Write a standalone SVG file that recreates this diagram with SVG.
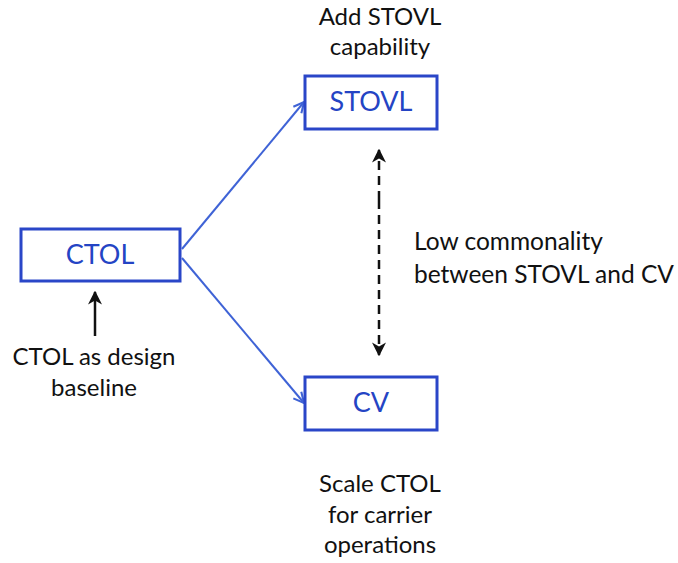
<svg xmlns="http://www.w3.org/2000/svg" width="678" height="563" viewBox="0 0 678 563">
<style>
.box{fill:#fff;stroke:#2a46c8;stroke-width:3}
.bt{font-family:Lato,"Open Sans","Liberation Sans",sans-serif;font-size:27px;fill:#2444c4;text-anchor:middle}
.t{font-family:Lato,"Open Sans","Liberation Sans",sans-serif;font-size:24px;fill:#111;text-anchor:middle}
.tl{font-family:Lato,"Open Sans","Liberation Sans",sans-serif;font-size:24.5px;fill:#111}
.blue{stroke:#3f63d6;stroke-width:2;fill:none}
.blk{stroke:#111;stroke-width:2.5;fill:none}
</style>
<defs>
<marker id="ab" viewBox="0 0 10 10" refX="9" refY="5" markerWidth="13" markerHeight="13" markerUnits="userSpaceOnUse" orient="auto"><path d="M1,1 L9,5 L1,9" fill="none" stroke="#3f63d6" stroke-width="1.6"/></marker>
<marker id="ak" viewBox="0 0 10 10" refX="9" refY="5" markerWidth="14" markerHeight="14" markerUnits="userSpaceOnUse" orient="auto"><path d="M0,0 L10,5 L0,10 L3,5 Z" fill="#111"/></marker>
</defs>
<rect width="678" height="563" fill="#fff"/>
<g id="connectors">
<line class="blue" x1="182" y1="249" x2="304" y2="102" marker-end="url(#ab)"/>
<line class="blue" x1="182" y1="258" x2="304" y2="403" marker-end="url(#ab)"/>
<line class="blk" x1="95" y1="336" x2="95" y2="292" marker-end="url(#ak)"/>
<line class="blk" x1="379" y1="200" x2="379" y2="150" marker-end="url(#ak)" stroke-dasharray="9,6"/>
<line class="blk" x1="379" y1="200" x2="379" y2="355" marker-end="url(#ak)" stroke-dasharray="9,6"/>
</g>
<g id="ctol"><rect class="box" x="21" y="229" width="159" height="52"/><text class="bt" x="100" y="264">CTOL</text></g>
<g id="stovl"><rect class="box" x="305" y="76" width="132" height="53"/><text class="bt" x="371" y="111">STOVL</text></g>
<g id="cv"><rect class="box" x="305" y="377" width="132" height="53"/><text class="bt" x="371" y="412">CV</text></g>
<g id="label-ctol"><text class="t" x="94" y="365">CTOL as design</text><text class="t" x="94" y="396">baseline</text></g>
<g id="label-stovl"><text class="t" x="380" y="25">Add STOVL</text><text class="t" x="380" y="55">capability</text></g>
<g id="label-cv"><text class="t" x="380" y="492">Scale CTOL</text><text class="t" x="380" y="523">for carrier</text><text class="t" x="380" y="553">operations</text></g>
<g id="label-common"><text class="tl" x="414" y="250">Low commonality</text><text class="tl" x="414" y="283">between STOVL and CV</text></g>
</svg>
